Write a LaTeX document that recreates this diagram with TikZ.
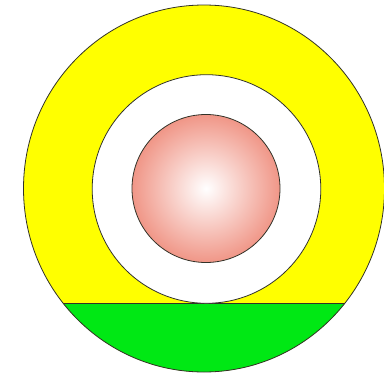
\documentclass[tikz,border=0pt]{standalone}
\definecolor{ringyellow}{RGB}{255,255,0}
\definecolor{segreen}{RGB}{0,232,20}
\definecolor{salmon}{RGB}{240,150,135}
\definecolor{edge}{RGB}{50,50,40}
\begin{document}
\begin{tikzpicture}[x=1pt,y=-1pt,
  outline/.style={draw=edge,line width=0.8pt}]
\useasboundingbox[fill=white] (0,0) rectangle (384,375);
% outer yellow disc
\coordinate (c) at (204,188.5);
\path[fill=ringyellow] (c) ellipse [x radius=180.5, y radius=183.5];
% green segment below y=303
\begin{scope}
  \clip (0,303) rectangle (384,380);
  \path[fill=segreen] (c) ellipse [x radius=180.5, y radius=183.5];
\end{scope}
\draw[outline] (c) ellipse [x radius=180.5, y radius=183.5];
% chord line
\coordinate (l) at ({204-180.5*sqrt(1-(114.5/183.5)*(114.5/183.5))},303);
\coordinate (r) at ({204+180.5*sqrt(1-(114.5/183.5)*(114.5/183.5))},303);
\draw[outline] (l) -- (r);
% white circle
\coordinate (m) at (206.5,189);
\draw[outline,fill=white] (m) circle [radius=114.3];
% pink sphere
\coordinate (p) at (206,188.5);
\draw[outline,inner color=white,outer color=salmon] (p) circle [radius=74];
\end{tikzpicture}
\end{document}
